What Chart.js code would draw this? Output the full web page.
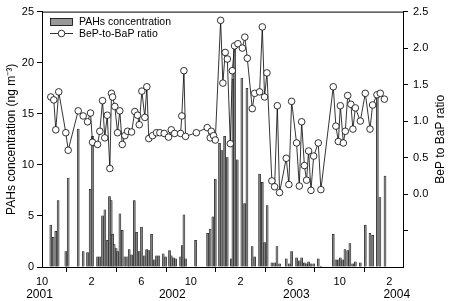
<!DOCTYPE html>
<html>
<head>
<meta charset="utf-8">
<script src="https://cdn.jsdelivr.net/npm/chart.js@4"></script>
<style>
  body { margin: 0; background: #fff; }
  #wrap { width: 453px; height: 301px; }
</style>
</head>
<body>
<div id="wrap"><canvas id="chart" width="453" height="301"></canvas></div>
<script>
// months counted from 1 Oct 2001
const barMonths = [0.71, 0.90, 1.11, 1.30, 1.92, 2.11, 2.92, 3.32, 3.67, 3.88, 4.07, 4.48, 4.66, 4.88, 5.07, 5.28, 5.44, 5.58, 5.69, 5.82,
  5.98, 6.09, 6.28, 6.47, 6.68, 6.90, 7.03, 7.22, 7.44, 7.62, 7.84, 8.02, 8.24, 8.43, 8.61, 8.83, 9.05, 9.23, 9.42, 9.77,
  9.96, 10.28, 10.42, 10.60, 10.77, 11.17, 11.31, 11.44, 11.57, 12.38, 13.35, 13.55, 13.77, 13.97, 14.31, 14.50, 14.72, 14.93, 15.26, 15.39,
  15.52, 15.74, 16.11, 16.33, 16.52, 16.94, 17.14, 17.54, 17.76, 17.94, 18.15, 18.53, 18.75, 18.94, 19.15, 19.69, 19.94, 20.12, 20.52, 20.74,
  20.93, 21.15, 21.33, 21.49, 21.68, 21.90, 22.27, 22.48, 23.48, 23.69, 23.89, 24.05, 24.23, 24.42, 24.64, 24.82, 25.04, 25.26, 25.66, 26.06,
  26.44, 26.65, 27.03, 27.24, 27.65];
const barValues = [4.1, 2.9, 3.5, 6.5, 1.5, 8.7, 13.5, 1.5, 1.4, 7.6, 12.8, 1.0, 1.0, 5.0, 5.6, 2.6, 6.9, 6.5, 3.2, 2.2,
  1.8, 1.5, 5.2, 3.6, 1.0, 1.0, 1.7, 1.2, 6.5, 3.4, 1.5, 3.9, 1.1, 1.7, 1.6, 3.2, 0.7, 1.1, 1.1, 1.3,
  1.0, 1.6, 1.1, 0.9, 0.8, 1.0, 2.1, 5.1, 0.8, 2.6, 3.3, 3.7, 4.9, 8.6, 12.1, 11.4, 12.8, 10.7, 0.8, 18.4,
  21.6, 10.5, 18.5, 6.2, 17.5, 2.0, 1.0, 9.1, 8.3, 2.4, 6.0, 0.4, 0.4, 2.0, 0.3, 0.8, 0.3, 1.5, 0.9, 0.6,
  0.9, 0.4, 0.3, 0.5, 0.3, 0.3, 0.8, 0.1, 3.2, 0.7, 0.7, 0.9, 0.7, 1.7, 1.6, 2.3, 0.3, 0.5, 0.4, 4.1,
  3.3, 3.1, 17.0, 6.8, 8.9];

const ratioMonths = [0.71, 0.95, 1.11, 1.35, 1.92, 2.11, 2.92, 3.32, 3.67, 3.91, 4.07, 4.48, 4.66, 4.88, 5.06, 5.26, 5.47, 5.60, 5.69, 5.87,
  6.09, 6.27, 6.47, 6.68, 6.90, 7.22, 7.48, 7.70, 7.84, 8.05, 8.29, 8.45, 8.61, 8.91, 9.23, 9.50, 9.85, 10.20, 10.42, 10.69,
  11.17, 11.27, 11.44, 11.57, 12.44, 13.32, 13.56, 13.65, 13.83, 13.97, 14.40, 14.58, 14.77, 14.94, 15.18, 15.34, 15.52, 15.79, 16.15, 16.35,
  16.55, 16.95, 17.14, 17.54, 17.76, 17.94, 18.13, 18.53, 18.75, 18.97, 19.15, 19.69, 19.90, 20.12, 20.52, 20.74, 20.93, 21.15, 21.33, 21.49,
  21.68, 21.90, 22.27, 22.48, 23.48, 23.69, 23.89, 24.05, 24.29, 24.45, 24.64, 24.90, 25.06, 25.26, 25.66, 26.06, 26.44, 26.65, 27.00, 27.27,
  27.60];
const ratioValues = [1.33, 1.29, 0.88, 1.40, 0.84, 0.60, 1.14, 1.07, 0.99, 1.11, 0.71, 0.68, 0.86, 1.28, 0.77, 1.08, 0.35, 1.38, 1.33, 1.20,
  0.84, 1.14, 0.68, 0.80, 0.86, 0.85, 1.13, 1.08, 0.95, 1.41, 1.05, 1.47, 0.76, 0.80, 0.84, 0.84, 0.83, 0.78, 0.88, 0.83,
  0.83, 1.07, 1.69, 0.79, 0.84, 0.91, 0.77, 0.86, 0.80, 0.74, 2.38, 1.52, 1.94, 1.85, 0.69, 1.69, 2.03, 2.06, 2.00, 2.15,
  1.86, 1.17, 1.38, 1.40, 2.29, 1.33, 1.66, 0.18, 0.10, 1.21, 0.02, 0.49, 0.13, 1.27, 0.70, 0.11, 0.99, 0.39, 0.19, 0.59,
  0.05, 0.52, 0.70, 0.06, 1.47, 0.93, 0.72, 1.21, 0.70, 0.86, 1.35, 1.23, 0.89, 1.18, 1.00, 1.38, 0.89, 1.22, 1.36, 1.38,
  1.30];

const xTickPos = [0, 4, 8, 12, 16, 20, 24, 28];
const xTickLabels = ['10', '2', '6', '10', '2', '6', '10', '2'];
const yearLabels = ['2001', '2002', '2003', '2004'];
const yearAt = [-0.2, 10.5, 20.5, 28.6];
const leftTicks = [0, 5, 10, 15, 20, 25];
const rightTicks = [-0.5, 0, 0.5, 1.0, 1.5, 2.0, 2.5];

const FONT = '"Liberation Sans", Arial, sans-serif';

const extras = {
    id: 'extras',
    afterDraw(chart) {
        const ctx = chart.ctx;
        const a = chart.chartArea;
        const xs = chart.scales.x;
        ctx.save();
        // top frame line
        ctx.strokeStyle = '#000';
        ctx.lineWidth = 1;
        ctx.beginPath();
        ctx.moveTo(a.left, a.top + 0.5);
        ctx.lineTo(a.right, a.top + 0.5);
        ctx.stroke();

        // year labels
        ctx.fillStyle = '#000';
        ctx.font = '12px ' + FONT;
        ctx.textAlign = 'center';
        ctx.textBaseline = 'middle';
        yearLabels.forEach((y, i) => ctx.fillText(y, xs.getPixelForValue(yearAt[i]), 295));

        // axis titles
        const mid = (a.top + a.bottom) / 2;
        ctx.font = '12px ' + FONT;
        ctx.save();
        ctx.translate(12, mid);
        ctx.rotate(-Math.PI / 2);
        ctx.fillText('PAHs concentration (ng m\u207B\u00B3)', 0, 0);
        ctx.restore();
        ctx.save();
        ctx.translate(441, mid);
        ctx.rotate(-Math.PI / 2);
        ctx.fillText('BeP to BaP ratio', 0, 0);
        ctx.restore();

        // legend
        ctx.font = '10.5px ' + FONT;
        ctx.textAlign = 'left';
        ctx.fillStyle = '#999';
        ctx.fillRect(50.5, 18.5, 22, 7);
        ctx.strokeStyle = '#000';
        ctx.lineWidth = 0.8;
        ctx.strokeRect(50.5, 18.5, 22, 7);
        ctx.fillStyle = '#000';
        ctx.fillText('PAHs concentration', 79, 22);
        ctx.beginPath();
        ctx.moveTo(50, 33.5);
        ctx.lineTo(73, 33.5);
        ctx.stroke();
        ctx.beginPath();
        ctx.arc(61.5, 33.5, 3.3, 0, Math.PI * 2);
        ctx.fillStyle = '#fff';
        ctx.fill();
        ctx.stroke();
        ctx.fillStyle = '#000';
        ctx.fillText('BeP-to-BaP ratio', 79, 34);
        ctx.restore();
    }
};

const axisCommon = {
    grid: { display: true, drawOnChartArea: false, drawTicks: true, tickLength: 5, tickColor: '#000', tickWidth: 1 },
    border: { display: true, color: '#000', width: 1 },
    ticks: { color: '#000', font: { family: FONT, size: 11 }, padding: 3 }
};

new Chart(document.getElementById('chart'), {
    type: 'bar',
    data: {
        datasets: [
            {
                type: 'line',
                label: 'BeP-to-BaP ratio',
                data: ratioMonths.map((m, i) => ({ x: m, y: ratioValues[i] })),
                yAxisID: 'yR',
                order: 0,
                borderColor: '#000',
                borderWidth: 0.8,
                tension: 0,
                pointRadius: 3.3,
                pointBackgroundColor: '#fff',
                pointBorderColor: '#000',
                pointBorderWidth: 0.8
            },
            {
                type: 'bar',
                label: 'PAHs concentration',
                data: barMonths.map((m, i) => ({ x: m, y: barValues[i] })),
                yAxisID: 'y',
                order: 1,
                backgroundColor: '#808080',
                borderColor: '#000',
                borderWidth: 0.5,
                barThickness: 2
            }
        ]
    },
    options: {
        responsive: false,
        animation: false,
        devicePixelRatio: 1,
        layout: { padding: { top: 8, left: 0, right: 0, bottom: 0 } },
        plugins: { legend: { display: false }, tooltip: { enabled: false } },
        scales: {
            x: {
                ...axisCommon,
                type: 'linear',
                offset: false,
                min: 0,
                max: 29.1,
                afterBuildTicks: s => { s.ticks = xTickPos.map(v => ({ value: v })); },
                ticks: { ...axisCommon.ticks, maxRotation: 0, autoSkip: false,
                    callback: (v) => xTickLabels[xTickPos.indexOf(v)] },
                afterFit: s => { s.height = 34; }
            },
            y: {
                ...axisCommon,
                position: 'left',
                min: 0,
                max: 25,
                afterBuildTicks: s => { s.ticks = leftTicks.map(v => ({ value: v })); },
                afterFit: s => { s.width = 42; }
            },
            yR: {
                ...axisCommon,
                position: 'right',
                min: -1,
                max: 2.5,
                afterBuildTicks: s => { s.ticks = rightTicks.map(v => ({ value: v })); },
                ticks: { ...axisCommon.ticks, padding: 5,
                    callback: (v) => v < 0 ? '' : v.toFixed(1) },
                afterFit: s => { s.width = 50; }
            }
        }
    },
    plugins: [extras]
});
</script>
</body>
</html>
